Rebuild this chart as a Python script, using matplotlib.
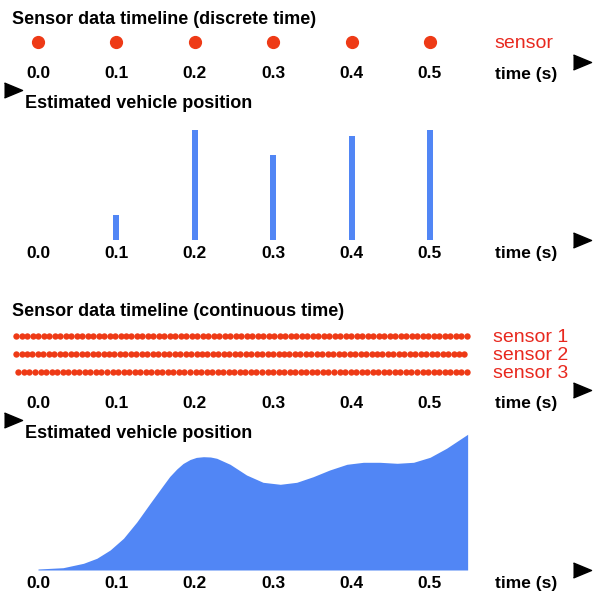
import matplotlib
matplotlib.use("Agg")
import matplotlib.pyplot as plt
import numpy as np

plt.rcParams['font.family'] = ['Liberation Sans', 'DejaVu Sans']

RED = '#ee3a16'
RED_TXT = '#e8281e'
BLUE = '#5186f5'

# discrete sensor samples / estimate
disc_times = [0.0, 0.1, 0.2, 0.3, 0.4, 0.5]
bar_times = [0.1, 0.2, 0.3, 0.4, 0.5]
bar_values = [0.23, 1.0, 0.77, 0.95, 1.0]

# continuous sensors: (label, first sample, last sample, number of samples)
sensors = [
    ("sensor 1", -0.028, 0.547, 83),
    ("sensor 2", -0.028, 0.544, 83),
    ("sensor 3", -0.025, 0.547, 82),
]

# continuous estimate
curve_t = [0.0, 0.032, 0.058, 0.075, 0.092, 0.109, 0.126, 0.143, 0.16, 0.168,
           0.177, 0.185, 0.194, 0.202, 0.211, 0.22, 0.228, 0.245, 0.266, 0.287,
           0.309, 0.33, 0.351, 0.372, 0.394, 0.415, 0.436, 0.458, 0.479, 0.5,
           0.521, 0.548]
curve_h = [1, 2.3, 6.7, 11.7, 20, 31.7, 48, 66.7, 85, 93.5,
           101, 106.5, 110.5, 112.6, 113.3, 113, 111.7, 105.7, 95, 87.7,
           85.7, 87.7, 93.3, 100, 105.7, 107.7, 107.7, 106.7, 107.7, 112.7,
           121.7, 135.7]

tick_pos = [0.0, 0.1, 0.2, 0.3, 0.4, 0.5, 0.622]
tick_lab = ['0.0', '0.1', '0.2', '0.3', '0.4', '0.5', 'time (s)']

W = H = 600
fig = plt.figure(figsize=(6, 6), dpi=100)
XLIM = (-38 / 784, 562 / 784)


def add_ax(top, bottom, pad):
    ax = fig.add_axes([0, 1 - bottom / H, 1, (bottom - top) / H])
    ax.set_xlim(*XLIM)
    for s in ax.spines.values():
        s.set_visible(False)
    ax.set_yticks([])
    ax.set_xticks(tick_pos)
    ax.set_xticklabels(tick_lab, fontsize=12.5, fontweight='bold')
    ax.tick_params(axis='x', length=0, pad=pad)
    ax.patch.set_alpha(0)
    return ax


def title(x, y, s):
    fig.text(x / W, 1 - y / H, s, fontsize=13, fontweight='bold',
             ha='left', va='center_baseline')


def arrow(x, y):
    fig.lines.append(plt.Line2D([x / W], [1 - y / H], transform=fig.transFigure,
                                marker=[(-1, -0.83), (1, 0), (-1, 0.83)],
                                markersize=13, color='black', linestyle='none'))


# panel 1: discrete sensor timeline
ax1 = add_ax(30, 54, 9)
ax1.set_ylim(-1, 1)
ax1.plot(disc_times, [0] * len(disc_times), 'o', color=RED, markersize=8.5)
ax1.text(0.62, 0, 'sensor', color=RED_TXT, fontsize=14, ha='center',
         va='center_baseline')
title(12, 18, 'Sensor data timeline (discrete time)')
arrow(582, 62)
arrow(13, 90)

# panel 2: discrete estimate
ax2 = add_ax(130, 240, 4)
ax2.set_ylim(0, 1)
ax2.bar(bar_times, bar_values, width=0.0077, color=BLUE)
title(25, 102, 'Estimated vehicle position')
arrow(582, 240)

# panel 3: continuous sensor timeline
ax3 = add_ax(327, 381, 10.5)
ax3.set_ylim(2.5, -0.5)
for i, (lab, t0, t1, n) in enumerate(sensors):
    ts = np.linspace(t0, t1, n)
    ax3.plot(ts, [i] * n, 'o', color=RED, markersize=4.6, markeredgewidth=0)
    ax3.text(0.628, i, lab, color=RED_TXT, fontsize=14, ha='center',
             va='center_baseline')
title(12, 309, 'Sensor data timeline (continuous time)')
arrow(582, 390)
arrow(13, 420)

# panel 4: continuous estimate
ax4 = add_ax(430, 570, 4)
ax4.set_ylim(0, 140)
ax4.fill_between(curve_t, curve_h, 0, color=BLUE, linewidth=0)
title(25, 432, 'Estimated vehicle position')
arrow(582, 570)

fig.savefig('out.png', dpi=100)
